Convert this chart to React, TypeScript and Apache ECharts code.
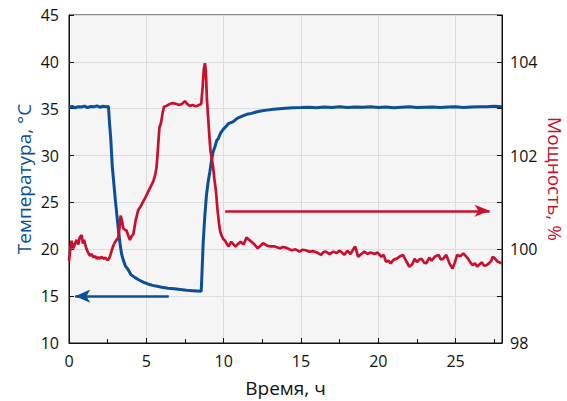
import React, { useEffect, useRef } from "react";
import * as echarts from "echarts";

const tempTime = [0, 0.2, 0.4, 0.6, 0.8, 1.0, 1.2, 1.4, 1.6, 1.8, 2.0, 2.2, 2.4, 2.55,
  2.62, 2.7, 2.8, 2.9, 3.0, 3.1, 3.2, 3.3, 3.4, 3.5, 3.65, 3.8, 4.0, 4.25, 4.5, 4.8, 5.1, 5.4, 5.7, 6.0, 6.4, 6.8, 7.2, 7.6, 8.0, 8.3, 8.55,
  8.6, 8.68, 8.78, 8.89, 9.0, 9.11, 9.22, 9.32, 9.45, 9.55, 9.65, 9.8, 9.97, 10.15, 10.3, 10.6, 10.9, 11.2, 11.5, 11.8, 12.1, 12.4, 12.8, 13.2, 13.6, 14.0, 14.5,
  15, 15.5, 16, 16.5, 17, 17.5, 18, 18.5, 19, 19.5, 20, 20.5, 21, 21.5, 22, 22.5, 23, 23.5, 24, 24.5, 25, 25.5, 26, 26.5, 27, 27.5, 28];
const tempValues = [35.15, 35.25, 35.1, 35.22, 35.18, 35.28, 35.12, 35.24, 35.2, 35.3, 35.16, 35.26, 35.22, 35.25,
  33.5, 31.8, 28.8, 27.0, 25.2, 23.6, 22.0, 20.6, 19.5, 18.9, 18.2, 17.9, 17.3, 17.0, 16.75, 16.5, 16.3, 16.15, 16.05, 15.95, 15.85, 15.78, 15.7, 15.62, 15.58, 15.55, 15.52,
  17.5, 20.8, 23.5, 25.8, 27.2, 28.3, 29.5, 30.4, 31.0, 31.6, 31.8, 32.4, 32.8, 33.1, 33.4, 33.6, 34.0, 34.2, 34.4, 34.5, 34.65, 34.75, 34.85, 34.95, 35.0, 35.05, 35.1,
  35.12, 35.15, 35.1, 35.18, 35.14, 35.2, 35.12, 35.17, 35.15, 35.2, 35.13, 35.18, 35.1, 35.15, 35.2, 35.12, 35.16, 35.19, 35.13, 35.17, 35.2, 35.14, 35.18, 35.22, 35.2, 35.25, 35.22];

const powerTime = [0, 0.1, 0.17, 0.28, 0.39, 0.5, 0.6, 0.7, 0.82, 0.9, 0.97, 1.05, 1.14, 1.25, 1.36, 1.47, 1.57, 1.7, 1.8, 1.9, 2.0, 2.1, 2.22, 2.35, 2.45, 2.54,
  2.65, 2.76, 2.87, 2.97, 3.08, 3.19, 3.28, 3.34, 3.42, 3.51, 3.6, 3.72, 3.82, 3.94, 4.05, 4.16, 4.3, 4.48, 4.64, 4.8, 4.96, 5.12, 5.3, 5.45, 5.58, 5.66, 5.72, 5.77, 5.85, 5.95, 6.05, 6.14,
  6.3, 6.52, 6.7, 6.96, 7.1, 7.3, 7.5, 7.65, 7.8, 8.0, 8.2, 8.4, 8.55, 8.65, 8.72, 8.79, 8.85, 8.92, 9.0, 9.08, 9.15, 9.25, 9.32, 9.4, 9.5, 9.6, 9.7, 9.78, 9.86, 9.97,
  10.1, 10.3, 10.5, 10.65, 10.77, 10.95, 11.1, 11.3, 11.48, 11.65, 11.8, 12.0, 12.2, 12.4, 12.55, 12.8, 13.0, 13.3, 13.64, 13.85, 14.07, 14.25, 14.4, 14.65, 14.9,
  15.1, 15.3, 15.55, 15.8, 16.05, 16.3, 16.45, 16.6, 16.85, 17.1, 17.3, 17.5, 17.65, 17.8, 18.0, 18.2, 18.35, 18.5, 18.7, 18.9, 19.1, 19.3, 19.5, 19.75, 19.95,
  20.2, 20.35, 20.5, 20.65, 20.8, 21.0, 21.2, 21.4, 21.6, 21.8, 22.0, 22.2, 22.35, 22.5, 22.65, 22.8, 22.95, 23.1, 23.3, 23.45, 23.65, 23.9, 24.05, 24.2, 24.4, 24.6, 24.8, 24.95,
  25.1, 25.3, 25.5, 25.65, 25.8, 25.95, 26.1, 26.25, 26.4, 26.55, 26.7, 26.85, 27.0, 27.15, 27.3, 27.4, 27.55, 27.7, 27.85, 28];
const powerValues = [99.75, 100.05, 100.18, 100.02, 100.12, 100.2, 100.1, 100.26, 100.3, 100.12, 100.2, 100.1, 100.0, 99.92, 99.86, 99.9, 99.83, 99.85, 99.8, 99.83, 99.8, 99.84, 99.8, 99.82, 99.78, 99.77,
  99.85, 99.97, 100.08, 100.15, 100.2, 100.25, 100.5, 100.72, 100.62, 100.45, 100.42, 100.4, 100.3, 100.2, 100.28, 100.32, 100.6, 100.84, 100.92, 101.02, 101.12, 101.23, 101.35, 101.45, 101.6, 101.75, 102.0, 102.25, 102.6, 102.7, 102.9, 103.04,
  103.06, 103.1, 103.12, 103.1, 103.08, 103.1, 103.16, 103.1, 103.06, 103.08, 103.05, 103.08, 103.1, 103.5, 103.85, 103.97, 103.8, 103.2, 102.8, 102.4, 102.1, 101.9, 101.76, 101.5, 101.25, 100.85, 100.55, 100.38, 100.3, 100.22,
  100.18, 100.06, 100.16, 100.1, 100.06, 100.12, 100.16, 100.1, 100.25, 100.2, 100.16, 100.1, 100.02, 100.08, 100.13, 100.08, 100.06, 100.06, 100.02, 100.05, 100.03, 100.0, 99.98, 100.0, 99.95,
  99.99, 99.98, 99.95, 99.96, 99.93, 99.88, 99.94, 99.95, 99.9, 99.95, 99.92, 99.97, 99.93, 99.88, 99.97, 99.9, 99.98, 100.06, 99.84, 99.9, 99.95, 99.9, 99.93, 99.9, 99.93,
  99.84, 99.88, 99.73, 99.76, 99.7, 99.78, 99.8, 99.85, 99.88, 99.75, 99.63, 99.68, 99.8, 99.73, 99.78, 99.8, 99.72, 99.7, 99.82, 99.76, 99.84, 99.88, 99.78, 99.8, 99.88, 99.7, 99.59, 99.72,
  99.88, 99.85, 99.91, 99.86, 99.8, 99.72, 99.66, 99.7, 99.63, 99.68, 99.72, 99.65, 99.66, 99.7, 99.75, 99.84, 99.8, 99.74, 99.72, 99.7];

const blueArrow = { fromT: 6.45, toT: 0.4, value: 15 };
const redArrow = { fromT: 10.1, toT: 27.2, value: 100.82 };

const BLUE = "#0b4f96";
const RED = "#c8102e";
const FONT = "Open Sans";

export default function App() {
  const ref = useRef<HTMLDivElement>(null);
  useEffect(() => {
    const chart = echarts.init(ref.current!, null, { renderer: "svg" });
    const tempData = tempTime.map((t, i) => [t, tempValues[i]]);
    const powerData = powerTime.map((t, i) => [t, powerValues[i]]);
    chart.setOption({
      animation: false,
      textStyle: { fontFamily: FONT },
      grid: {
        left: 69, right: 65, top: 15, bottom: 58,
        outerBoundsMode: "none", containLabel: false,
        show: true, backgroundColor: "#f5f5f5", borderColor: "#111", borderWidth: 1,
      },
      xAxis: {
        type: "value", min: 0, max: 28, interval: 5,
        name: "Время, ч", nameLocation: "middle", nameGap: 35, nameMoveOverlap: false,
        nameTextStyle: { fontSize: 19, color: "#111", fontFamily: FONT },
        axisLine: { show: true, lineStyle: { color: "#111", width: 1 } },
        axisTick: { show: true, inside: true, length: 5, lineStyle: { color: "#111" } },
        minorTick: { show: true, splitNumber: 2, length: 4, lineStyle: { color: "#111" } },
        axisLabel: { fontSize: 16, color: "#111", margin: 10, fontFamily: FONT, showMaxLabel: false },
        splitLine: { show: true, lineStyle: { color: "#dcdcdc", width: 1 } },
      },
      yAxis: [
        {
          type: "value", min: 10, max: 45, interval: 5, position: "left",
          name: "Температура, °C", nameLocation: "middle", nameGap: 36, nameRotate: 90, nameMoveOverlap: false,
          nameTextStyle: { fontSize: 19, color: BLUE, fontFamily: FONT },
          axisLine: { show: true, lineStyle: { color: "#111", width: 1 } },
          axisTick: { show: true, inside: true, length: 5, lineStyle: { color: "#111" } },
          axisLabel: { fontSize: 16, color: "#111", margin: 10, fontFamily: FONT },
          splitLine: { show: true, lineStyle: { color: "#dcdcdc", width: 1 } },
        },
        {
          type: "value", min: 98, max: 105, interval: 1, position: "right",
          name: "Мощность, %", nameLocation: "middle", nameGap: 43, nameRotate: -90, nameMoveOverlap: false,
          nameTextStyle: { fontSize: 19, color: RED, fontFamily: FONT },
          axisLine: { show: true, lineStyle: { color: "#111", width: 1 } },
          axisTick: { show: true, inside: true, length: 5, lineStyle: { color: "#111" } },
          axisLabel: {
            fontSize: 16, color: "#111", margin: 8, fontFamily: FONT,
            formatter: (v: number) => (Math.round(v) % 2 === 0 && v < 105 ? String(v) : ""),
          },
          splitLine: { show: false },
        },
      ],
      series: [
        {
          type: "line", yAxisIndex: 0, data: tempData, showSymbol: false, symbol: "none",
          lineStyle: { color: BLUE, width: 3 }, z: 2,
          markLine: {
            silent: true, symbol: ["none", "arrow"], symbolSize: [10, 15],
            label: { show: false },
            lineStyle: { color: BLUE, width: 2.5, type: "solid" },
            data: [[{ coord: [blueArrow.fromT, blueArrow.value] }, { coord: [blueArrow.toT, blueArrow.value] }]],
          },
        },
        {
          type: "line", yAxisIndex: 1, data: powerData, showSymbol: false, symbol: "none",
          lineStyle: { color: RED, width: 2.7 }, z: 3,
          markLine: {
            silent: true, symbol: ["none", "arrow"], symbolSize: [9, 15],
            label: { show: false },
            lineStyle: { color: RED, width: 2.5, type: "solid" },
            data: [[{ coord: [redArrow.fromT, redArrow.value] }, { coord: [redArrow.toT, redArrow.value] }]],
          },
        },
      ],
    });
    return () => chart.dispose();
  }, []);
  return <div ref={ref} style={{ width: 567, height: 401, position: "absolute", left: 0, top: 0 }} />;
}
